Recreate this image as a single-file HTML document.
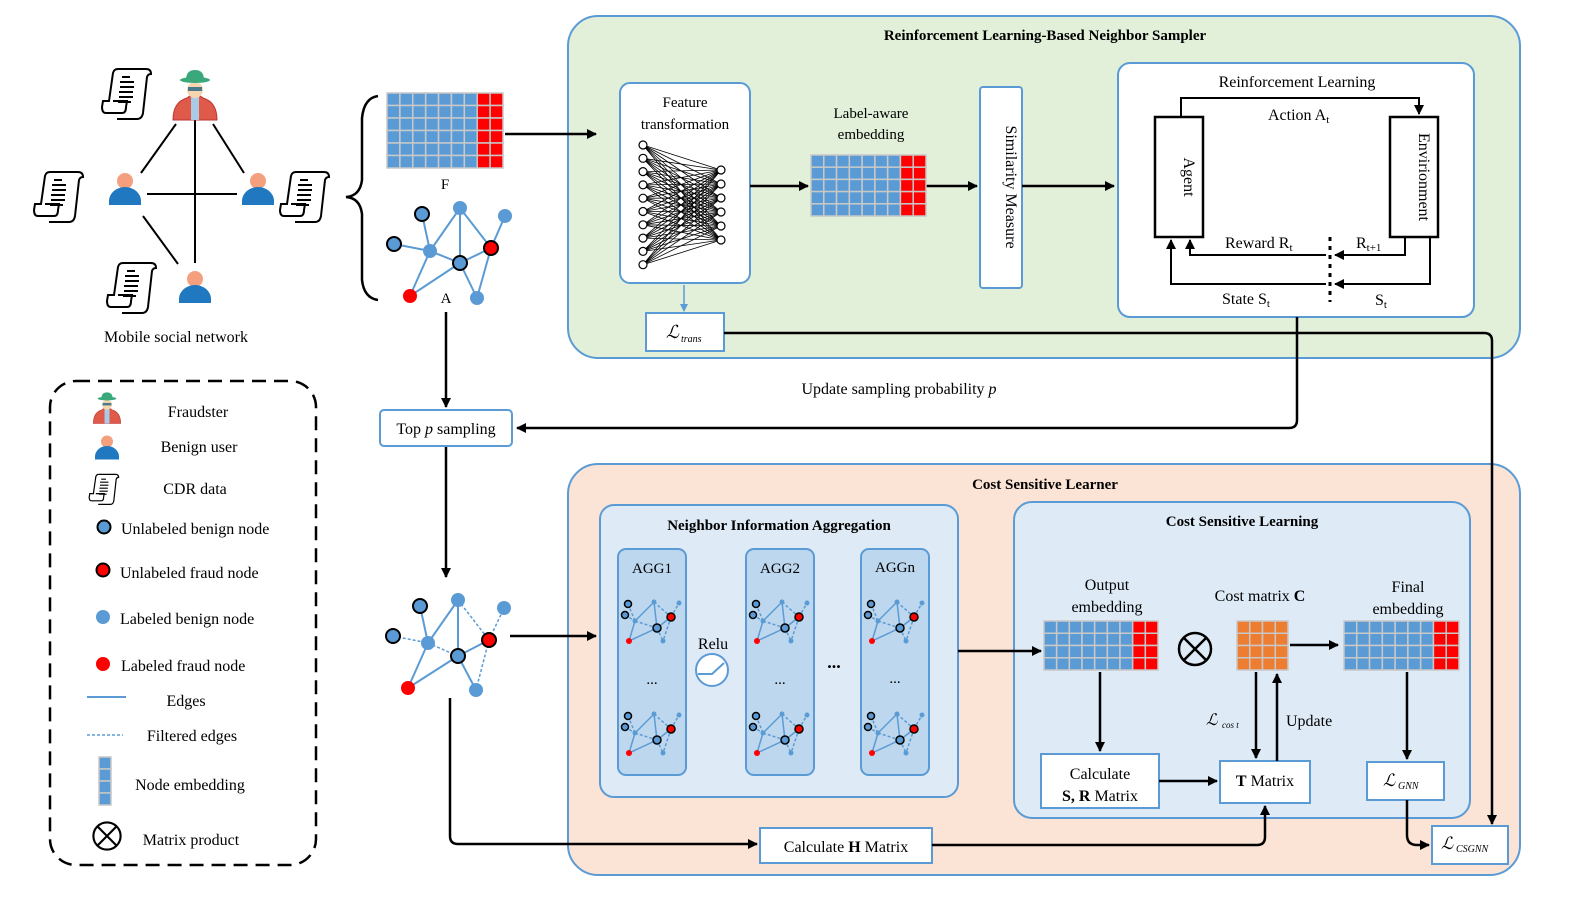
<!DOCTYPE html>
<html><head><meta charset="utf-8"><style>
html,body{margin:0;padding:0;background:#fff;overflow:hidden;width:1572px;height:911px}
svg{display:block}
text{font-family:"Liberation Serif",serif;fill:#000}
</style></head><body>
<svg id="s" width="1572" height="911" viewBox="0 0 1572 911" xmlns="http://www.w3.org/2000/svg">
<defs>
<marker id="ah" markerWidth="10" markerHeight="10" refX="9" refY="5" orient="auto" markerUnits="userSpaceOnUse"><path d="M0,0 L10,5 L0,10 z" fill="#000"/></marker>
<marker id="ab" markerWidth="8" markerHeight="8" refX="7" refY="4" orient="auto" markerUnits="userSpaceOnUse"><path d="M0,0 L8,4 L0,8 z" fill="#5b9bd5"/></marker>
<g id="doc">
<path d="M-12,-26 h28 q5,0 5,5 q-3,0 -4,3 l-4,36 q-1,6 -6,6 h-20" fill="#fff" stroke="#000" stroke-width="2"/>
<path d="M-12,-26 q-4,0 -5,4 l-4,28 h-6 l-1,6 q0,6 4,6 h16 q4,0 4,-6 l1,-6 h-14" fill="#fff" stroke="#000" stroke-width="2"/>
<path d="M-8,-18h8 M-10,-13h14 M-10,-8h14 M-11,-3h14 M-11,2h14 M-12,7h13" stroke="#000" stroke-width="2"/>
</g>
<g id="user"><circle cx="0" cy="-14" r="8" fill="#f4a07f"/><path d="M-16,10 v-4 a16,14 0 0 1 32,0 v4 z" fill="#1f78c0"/></g>
<g id="fraud">
<path d="M-22,20 q0,-18 14,-22 l8,-6 l8,6 q14,4 14,22 z" fill="#e05a4a" stroke="#b33" stroke-width="1"/>
<rect x="-4" y="-6" width="8" height="26" fill="#a9cbe5"/>
<circle cx="0" cy="-10" r="8" fill="#f5d6b0"/>
<rect x="-7" y="-13" width="14" height="4" fill="#4a7a8a"/>
<ellipse cx="0" cy="-20" rx="15" ry="3" fill="#3aa87a"/>
<path d="M-9,-20 q0,-10 9,-10 q9,0 9,10z" fill="#3aa87a"/>
</g>
<g id="mini">
<g stroke="#5b9bd5" stroke-width="1.5" fill="none">
<line x1="16" y1="28" x2="35" y2="9"/><line x1="16" y1="28" x2="10" y2="48"/><line x1="10" y1="48" x2="38" y2="35"/><line x1="38" y1="35" x2="52" y2="24"/><line x1="35" y1="9" x2="38" y2="35"/>
<g stroke-dasharray="3,2"><line x1="6" y1="22" x2="16" y2="28"/><line x1="16" y1="28" x2="38" y2="35"/><line x1="35" y1="9" x2="52" y2="24"/><line x1="52" y1="24" x2="60" y2="10"/><line x1="52" y1="24" x2="44" y2="48"/><line x1="38" y1="35" x2="44" y2="48"/><line x1="9" y1="11" x2="16" y2="28"/></g>
</g>
<circle cx="9" cy="11" r="3.5" fill="#5b9bd5" stroke="#000" stroke-width="1.5"/>
<circle cx="6" cy="22" r="3.5" fill="#5b9bd5" stroke="#000" stroke-width="1.5"/>
<circle cx="38" cy="35" r="4" fill="#5b9bd5" stroke="#000" stroke-width="1.5"/>
<circle cx="52" cy="24" r="4" fill="#f00" stroke="#000" stroke-width="1.5"/>
<circle cx="35" cy="9" r="2.5" fill="#5b9bd5"/><circle cx="16" cy="28" r="2.5" fill="#5b9bd5"/><circle cx="60" cy="10" r="2.5" fill="#5b9bd5"/><circle cx="44" cy="48" r="2.5" fill="#5b9bd5"/>
<circle cx="10" cy="48" r="3" fill="#f00"/>
</g>
<g id="otimes"><circle r="16" fill="none" stroke="#000" stroke-width="2.5"/><path d="M-11,-11 L11,11 M11,-11 L-11,11" stroke="#000" stroke-width="2.5"/></g>
</defs>

<rect x="568" y="16" width="952" height="342" rx="30" fill="#e2efd9" stroke="#5b9bd5" stroke-width="2"/>
<text x="1045" y="40" font-size="15" font-weight="bold" text-anchor="middle">Reinforcement Learning-Based Neighbor Sampler</text>
<rect x="568" y="464" width="952" height="411" rx="30" fill="#fbe4d5" stroke="#5b9bd5" stroke-width="2"/>
<text x="1045" y="489" font-size="15" font-weight="bold" text-anchor="middle">Cost Sensitive Learner</text>

<rect x="620" y="83" width="130" height="200" rx="10" fill="#fff" stroke="#5b9bd5" stroke-width="2"/>
<text x="685" y="107" font-size="15" text-anchor="middle">Feature</text>
<text x="685" y="129" font-size="15" text-anchor="middle">transformation</text>
<g id="nn"></g>
<line x1="684" y1="285" x2="684" y2="311" stroke="#5b9bd5" stroke-width="1.5" marker-end="url(#ab)"/>
<rect x="646" y="313" width="78" height="38" fill="#fff" stroke="#5b9bd5" stroke-width="2"/>
<text x="666" y="338" font-size="18" font-style="italic">ℒ</text><text x="681" y="342" font-size="10" font-style="italic">trans</text>

<line x1="750" y1="186" x2="808" y2="186" stroke="#000" stroke-width="2.5" marker-end="url(#ah)"/>
<text x="871" y="118" font-size="15" text-anchor="middle">Label-aware</text>
<text x="871" y="139" font-size="15" text-anchor="middle">embedding</text>
<line x1="926" y1="186" x2="977" y2="186" stroke="#000" stroke-width="2.5" marker-end="url(#ah)"/>
<rect x="980" y="87" width="42" height="201" rx="3" fill="#fff" stroke="#5b9bd5" stroke-width="2"/>
<text transform="translate(1001,187) rotate(90)" font-size="16" text-anchor="middle" dy="-5">Similarity Measure</text>
<line x1="1022" y1="186" x2="1114" y2="186" stroke="#000" stroke-width="2.5" marker-end="url(#ah)"/>

<rect x="1118" y="63" width="356" height="254" rx="12" fill="#fff" stroke="#5b9bd5" stroke-width="2"/>
<text x="1297" y="87" font-size="16" text-anchor="middle">Reinforcement Learning</text>
<rect x="1155" y="117" width="48" height="120" fill="#fff" stroke="#000" stroke-width="2.5"/>
<rect x="1390" y="117" width="48" height="120" fill="#fff" stroke="#000" stroke-width="2.5"/>
<text transform="translate(1179,177) rotate(90)" font-size="16" text-anchor="middle" dy="-5">Agent</text>
<text transform="translate(1414,177) rotate(90)" font-size="16" text-anchor="middle" dy="-5">Envirionment</text>
<path d="M1181,117 V98 H1419 V114" fill="none" stroke="#000" stroke-width="2" marker-end="url(#ah)"/>
<text x="1268" y="120" font-size="16">Action A<tspan font-size="11" dy="3">t</tspan></text>
<path d="M1405,237 V255 H1335" fill="none" stroke="#000" stroke-width="2" marker-end="url(#ah)"/>
<path d="M1430,237 V284 H1335" fill="none" stroke="#000" stroke-width="2" marker-end="url(#ah)"/>
<path d="M1326,255 H1190 V240" fill="none" stroke="#000" stroke-width="2" marker-end="url(#ah)"/>
<path d="M1326,284 H1171 V240" fill="none" stroke="#000" stroke-width="2" marker-end="url(#ah)"/>
<line x1="1330" y1="237" x2="1330" y2="302" stroke="#000" stroke-width="3" stroke-dasharray="4,5"/>
<text x="1225" y="248" font-size="16">Reward R<tspan font-size="11" dy="3">t</tspan></text>
<text x="1356" y="248" font-size="16">R<tspan font-size="11" dy="3">t+1</tspan></text>
<text x="1222" y="304" font-size="16">State S<tspan font-size="11" dy="3">t</tspan></text>
<text x="1375" y="305" font-size="16">S<tspan font-size="11" dy="3">t</tspan></text>

<path d="M724,333 H1484 Q1492,333 1492,341 V824" fill="none" stroke="#000" stroke-width="2.5" marker-end="url(#ah)"/>
<path d="M1297,317 V420 Q1297,428 1289,428 H517" fill="none" stroke="#000" stroke-width="2.5" marker-end="url(#ah)"/>
<text x="899" y="394" font-size="16" text-anchor="middle">Update sampling probability <tspan font-style="italic">p</tspan></text>
<rect x="380" y="410" width="132" height="36" rx="4" fill="#fff" stroke="#5b9bd5" stroke-width="2"/>
<text x="446" y="434" font-size="16" text-anchor="middle">Top <tspan font-style="italic">p</tspan> sampling</text>
<line x1="446" y1="312" x2="446" y2="407" stroke="#000" stroke-width="2.5" marker-end="url(#ah)"/>
<line x1="446" y1="447" x2="446" y2="577" stroke="#000" stroke-width="2.5" marker-end="url(#ah)"/>
<line x1="505" y1="134" x2="596" y2="134" stroke="#000" stroke-width="2.5" marker-end="url(#ah)"/>
<line x1="510" y1="636" x2="596" y2="636" stroke="#000" stroke-width="2.5" marker-end="url(#ah)"/>
<path d="M450,698 V836 Q450,844 458,844 H757" fill="none" stroke="#000" stroke-width="2.5" marker-end="url(#ah)"/>
<rect x="760" y="828" width="172" height="35" fill="#fff" stroke="#5b9bd5" stroke-width="2"/>
<text x="846" y="852" font-size="16" text-anchor="middle">Calculate <tspan font-weight="bold">H</tspan> Matrix</text>

<rect x="600" y="505" width="358" height="292" rx="14" fill="#deebf7" stroke="#5b9bd5" stroke-width="2"/>
<text x="779" y="530" font-size="15" font-weight="bold" text-anchor="middle">Neighbor Information Aggregation</text>
<rect x="618" y="549" width="68" height="226" rx="8" fill="#bdd7ee" stroke="#5b9bd5" stroke-width="2"/>
<rect x="746" y="549" width="68" height="226" rx="8" fill="#bdd7ee" stroke="#5b9bd5" stroke-width="2"/>
<rect x="861" y="549" width="68" height="226" rx="8" fill="#bdd7ee" stroke="#5b9bd5" stroke-width="2"/>
<text x="652" y="573" font-size="15" text-anchor="middle">AGG1</text>
<text x="780" y="573" font-size="15" text-anchor="middle">AGG2</text>
<text x="895" y="572" font-size="15" text-anchor="middle">AGGn</text>
<use href="#mini" x="619" y="593"/><use href="#mini" x="619" y="705"/>
<use href="#mini" x="747" y="593"/><use href="#mini" x="747" y="705"/>
<use href="#mini" x="862" y="593"/><use href="#mini" x="862" y="705"/>
<text x="652" y="684" font-size="15" text-anchor="middle">...</text>
<text x="780" y="684" font-size="15" text-anchor="middle">...</text>
<text x="895" y="683" font-size="15" text-anchor="middle">...</text>
<text x="834" y="668" font-size="18" font-weight="bold" text-anchor="middle">...</text>
<text x="713" y="649" font-size="16" text-anchor="middle">Relu</text>
<circle cx="712" cy="670" r="16" fill="#fff" stroke="#5b9bd5" stroke-width="2"/>
<path d="M698,674 H712 L724,663" fill="none" stroke="#5b9bd5" stroke-width="2"/>

<rect x="1014" y="502" width="456" height="316" rx="18" fill="#deebf7" stroke="#5b9bd5" stroke-width="2"/>
<path d="M932,845 H1257 Q1265,845 1265,837 V806" fill="none" stroke="#000" stroke-width="2.5" marker-end="url(#ah)"/>
<line x1="958" y1="651" x2="1041" y2="651" stroke="#000" stroke-width="2.5" marker-end="url(#ah)"/>
<text x="1242" y="526" font-size="15" font-weight="bold" text-anchor="middle">Cost Sensitive Learning</text>
<text x="1107" y="590" font-size="16" text-anchor="middle">Output</text>
<text x="1107" y="612" font-size="16" text-anchor="middle">embedding</text>
<text x="1260" y="601" font-size="16" text-anchor="middle">Cost matrix <tspan font-weight="bold">C</tspan></text>
<text x="1408" y="592" font-size="16" text-anchor="middle">Final</text>
<text x="1408" y="614" font-size="16" text-anchor="middle">embedding</text>
<use href="#otimes" x="1195" y="649"/>
<line x1="1290" y1="645" x2="1338" y2="645" stroke="#000" stroke-width="2.5" marker-end="url(#ah)"/>
<line x1="1100" y1="672" x2="1100" y2="751" stroke="#000" stroke-width="2.5" marker-end="url(#ah)"/>
<rect x="1041" y="754" width="118" height="54" fill="#fff" stroke="#5b9bd5" stroke-width="2"/>
<text x="1100" y="779" font-size="16" text-anchor="middle">Calculate</text>
<text x="1100" y="801" font-size="16" text-anchor="middle"><tspan font-weight="bold">S, R</tspan> Matrix</text>
<line x1="1159" y1="781" x2="1217" y2="781" stroke="#000" stroke-width="2.5" marker-end="url(#ah)"/>
<rect x="1220" y="761" width="90" height="42" fill="#fff" stroke="#5b9bd5" stroke-width="2"/>
<text x="1265" y="786" font-size="16" text-anchor="middle"><tspan font-weight="bold">T</tspan> Matrix</text>
<line x1="1256" y1="672" x2="1256" y2="758" stroke="#000" stroke-width="2.5" marker-end="url(#ah)"/>
<line x1="1277" y1="761" x2="1277" y2="674" stroke="#000" stroke-width="2.5" marker-end="url(#ah)"/>
<text x="1206" y="725" font-size="16" font-style="italic">ℒ</text><text x="1222" y="728" font-size="9" font-style="italic">cos t</text>
<text x="1286" y="726" font-size="16">Update</text>
<line x1="1407" y1="672" x2="1407" y2="759" stroke="#000" stroke-width="2.5" marker-end="url(#ah)"/>
<rect x="1367" y="762" width="77" height="38" fill="#fff" stroke="#5b9bd5" stroke-width="2"/>
<text x="1383" y="786" font-size="17" font-style="italic">ℒ</text><text x="1398" y="789" font-size="10" font-style="italic">GNN</text>
<path d="M1407,800 V835 Q1407,845 1417,845 H1429" fill="none" stroke="#000" stroke-width="2.5" marker-end="url(#ah)"/>
<rect x="1432" y="826" width="76" height="38" fill="#fff" stroke="#5b9bd5" stroke-width="2"/>
<text x="1441" y="849" font-size="17" font-style="italic">ℒ</text><text x="1456" y="852" font-size="10" font-style="italic">CSGNN</text>

<g stroke="#000" stroke-width="2">
<line x1="176" y1="124" x2="141" y2="173"/><line x1="213" y1="124" x2="244" y2="173"/>
<line x1="195" y1="120" x2="195" y2="263"/><line x1="147" y1="194" x2="237" y2="194"/>
<line x1="143" y1="216" x2="178" y2="264"/>
</g>
<use href="#fraud" x="195" y="100"/>
<use href="#user" x="125" y="195"/><use href="#user" x="258" y="195"/><use href="#user" x="195" y="293"/>
<use href="#doc" x="130" y="95"/><use href="#doc" x="62" y="198"/><use href="#doc" x="308" y="198"/><use href="#doc" x="135" y="289"/>
<text x="176" y="342" font-size="16" text-anchor="middle">Mobile social network</text>
<path d="M378,96 Q364,98 362,118 V180 Q360,196 346,197 Q360,198 362,214 V280 Q364,298 378,300" fill="none" stroke="#000" stroke-width="2.5"/>
<text x="445" y="189" font-size="15" text-anchor="middle">F</text>
<text x="446" y="303" font-size="15" text-anchor="middle">A</text>
<g id="gA"></g><g id="gB"></g>

<rect x="50" y="381" width="266" height="484" rx="26" fill="#fff" stroke="#000" stroke-width="2.5" stroke-dasharray="14,8"/>
<use href="#fraud" transform="translate(107,411) scale(0.62)"/>
<use href="#user" transform="translate(107,452) scale(0.75)"/>
<use href="#doc" transform="translate(106,490) scale(0.6)"/>
<text x="198" y="417" font-size="16" text-anchor="middle">Fraudster</text>
<text x="199" y="452" font-size="16" text-anchor="middle">Benign user</text>
<text x="195" y="494" font-size="16" text-anchor="middle">CDR data</text>
<circle cx="104" cy="527" r="6.5" fill="#5b9bd5" stroke="#000" stroke-width="2"/>
<text x="121" y="534" font-size="16">Unlabeled benign node</text>
<circle cx="103" cy="570" r="6.5" fill="#f00" stroke="#000" stroke-width="2"/>
<text x="120" y="578" font-size="16">Unlabeled fraud node</text>
<circle cx="103" cy="617" r="7" fill="#5b9bd5"/>
<text x="120" y="624" font-size="16">Labeled benign node</text>
<circle cx="103" cy="664" r="7" fill="#f00"/>
<text x="121" y="671" font-size="16">Labeled fraud node</text>
<line x1="87" y1="697" x2="126" y2="697" stroke="#5b9bd5" stroke-width="2"/>
<text x="186" y="706" font-size="16" text-anchor="middle">Edges</text>
<line x1="87" y1="735" x2="123" y2="735" stroke="#5b9bd5" stroke-width="1.5" stroke-dasharray="3,2"/>
<text x="192" y="741" font-size="16" text-anchor="middle">Filtered edges</text>
<text x="190" y="790" font-size="16" text-anchor="middle">Node embedding</text>
<use href="#otimes" transform="translate(107,836) scale(0.85)"/>
<text x="191" y="845" font-size="16" text-anchor="middle">Matrix product</text>

<g id="grids"></g>
</svg>
<script>
var NS="http://www.w3.org/2000/svg";
function el(p,t,a){var e=document.createElementNS(NS,t);for(var k in a)e.setAttribute(k,a[k]);p.appendChild(e);return e;}
var G=document.getElementById("grids");
function grid(x,y,w,h,cols,rows,red,col2){
 var cw=w/cols,ch=h/rows;
 for(var r=0;r<rows;r++)for(var c=0;c<cols;c++){
  var f=col2||(c>=cols-red?"#f00":"#5b9bd5");
  el(G,"rect",{x:x+c*cw,y:y+r*ch,width:cw,height:ch,fill:f,stroke:"#c8c8c8","stroke-width":1.5});
 }
}
grid(387,93,116,75,9,6,2);
grid(811,155,115,61,9,5,2);
grid(1044,621,114,49,9,4,2);
grid(1344,621,115,49,9,4,2);
grid(1237,621,51,49,4,4,0,"#ed7d31");
grid(99,757,12,48,1,4,0);
var N=document.getElementById("nn");
var L=[],R=[];
for(var i=0;i<10;i++)L.push(145+i*13.3);
for(var i=0;i<6;i++)R.push(170+i*14);
L.forEach(function(a){R.forEach(function(b){el(N,"line",{x1:643,y1:a,x2:721,y2:b,stroke:"#000","stroke-width":0.8});});});
L.forEach(function(a){el(N,"circle",{cx:643,cy:a,r:4,fill:"#fff",stroke:"#000","stroke-width":1.2});});
R.forEach(function(b){el(N,"circle",{cx:721,cy:b,r:4,fill:"#fff",stroke:"#000","stroke-width":1.2});});
function graph(id,P,E,D){
 var g=document.getElementById(id);
 E.forEach(function(e){el(g,"line",{x1:P[e[0]][0],y1:P[e[0]][1],x2:P[e[1]][0],y2:P[e[1]][1],stroke:"#5b9bd5","stroke-width":2});});
 (D||[]).forEach(function(e){el(g,"line",{x1:P[e[0]][0],y1:P[e[0]][1],x2:P[e[1]][0],y2:P[e[1]][1],stroke:"#5b9bd5","stroke-width":1.5,"stroke-dasharray":"3,2"});});
 P.forEach(function(p){var a={cx:p[0],cy:p[1],r:7,fill:p[2]};if(p[3]){a.stroke="#000";a["stroke-width"]=2;}el(g,"circle",a);});
}
var PA=[[422,214,"#5b9bd5",1],[394,244,"#5b9bd5",1],[460,263,"#5b9bd5",1],[491,248,"#f00",1],[460,208,"#5b9bd5"],[430,251,"#5b9bd5"],[505,216,"#5b9bd5"],[477,298,"#5b9bd5"],[410,296,"#f00"]];
var EA=[[0,5],[1,5],[5,4],[5,2],[4,2],[4,3],[3,6],[2,3],[2,7],[3,7],[5,8],[8,2]];
graph("gA",PA,EA);
var PB=[[420,606,"#5b9bd5",1],[393,636,"#5b9bd5",1],[458,656,"#5b9bd5",1],[489,640,"#f00",1],[458,600,"#5b9bd5"],[428,643,"#5b9bd5"],[504,608,"#5b9bd5"],[476,690,"#5b9bd5"],[408,688,"#f00"]];
graph("gB",PB,[[0,5],[5,4],[4,2],[2,3],[2,7],[5,8],[8,2]],[[1,5],[5,2],[4,3],[3,6],[3,7]]);
</script>
</body></html>
